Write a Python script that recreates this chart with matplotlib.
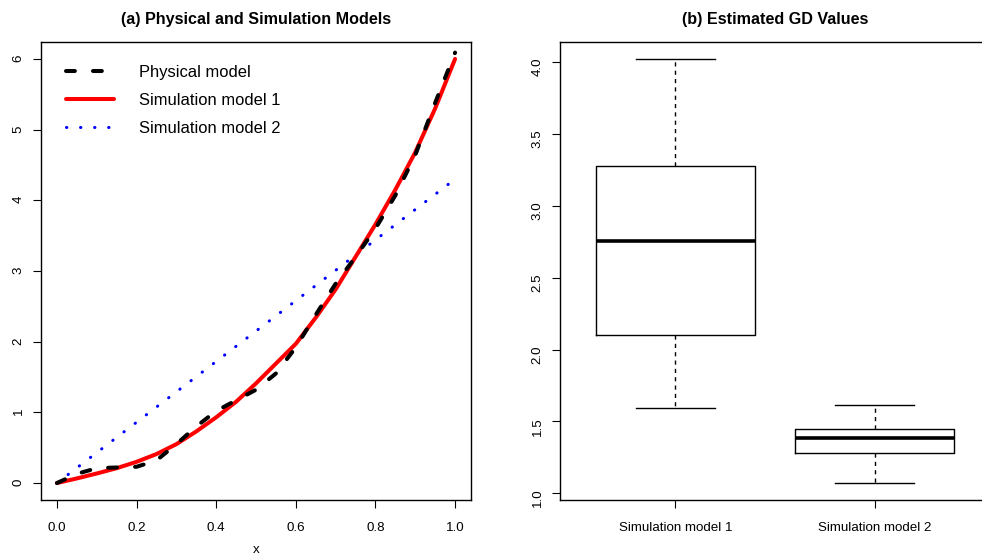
import matplotlib
matplotlib.use("Agg")
import matplotlib.pyplot as plt

plt.rcParams["font.family"] = ["Liberation Sans", "DejaVu Sans"]

# ---------------------------------------------------------------------------
# Data
# ---------------------------------------------------------------------------

x_grid = [0.00, 0.05, 0.10, 0.15, 0.20, 0.25, 0.30, 0.35, 0.40, 0.45, 0.50,
          0.55, 0.60, 0.65, 0.70, 0.75, 0.80, 0.85, 0.90, 0.95, 1.00]

physical_y = [0.00, 0.13, 0.21, 0.22, 0.23, 0.32, 0.55, 0.80, 1.02, 1.17, 1.32,
              1.55, 1.92, 2.38, 2.82, 3.20, 3.60, 4.07, 4.64, 5.38, 6.09]

sim1_y = [0.00, 0.065, 0.135, 0.21, 0.30, 0.41, 0.55, 0.73, 0.93, 1.15, 1.41,
          1.69, 1.97, 2.34, 2.74, 3.20, 3.66, 4.15, 4.68, 5.30, 6.00]

sim2_x = [0.0, 1.0]
sim2_y = [0.0, 4.3]

# Box plot summary (panel b)
box_labels = ["Simulation model 1", "Simulation model 2"]
whisk_lo = [1.596, 1.070]
q1 = [2.098, 1.279]
medians = [2.757, 1.383]
q3 = [3.280, 1.448]
whisk_hi = [4.024, 1.617]

# ---------------------------------------------------------------------------
# Figure
# ---------------------------------------------------------------------------

W, H = 982, 554
fig = plt.figure(figsize=(W / 100, H / 100), dpi=100)

ax1 = fig.add_axes([41 / W, 54 / H, 430 / W, 458 / H])
ax2 = fig.add_axes([560 / W, 54 / H, 430 / W, 458 / H])

TICK_FS = 9.6
for ax in (ax1, ax2):
    for sp in ax.spines.values():
        sp.set_linewidth(1.0)
    ax.tick_params(direction="out", length=5.8, width=0.8,
                   labelsize=TICK_FS, pad=6)
    ax.tick_params(axis="x", pad=10)
    ax.tick_params(axis="y", labelrotation=90)

# --- (a) line chart
ax1.plot(x_grid, physical_y, color="black", lw=2.9,
         linestyle=(0, (2.2, 4.5)), dash_capstyle="round",
         label="Physical model", zorder=3)
ax1.plot(x_grid, sim1_y, color="red", lw=2.9, solid_capstyle="round",
         label="Simulation model 1", zorder=2)
ax1.plot(sim2_x, sim2_y, color="blue", lw=2.2,
         linestyle=(0, (0.1, 4.5)), dash_capstyle="round",
         label="Simulation model 2", zorder=1)

ax1.set_xlim(-0.04, 1.04)
ax1.set_ylim(-0.24, 6.24)
ax1.set_xticks([0.0, 0.2, 0.4, 0.6, 0.8, 1.0])
ax1.set_xticklabels(["0.0", "0.2", "0.4", "0.6", "0.8", "1.0"])
ax1.set_yticks([0, 1, 2, 3, 4, 5, 6])
ax1.set_xlabel("x", fontsize=TICK_FS, labelpad=7)
ax1.set_title("(a) Physical and Simulation Models", fontsize=11.6,
              fontweight="bold", pad=13)

ax1.legend(loc="upper left", bbox_to_anchor=(0.058, 0.950), frameon=False,
           fontsize=11.9, handlelength=2.9, handletextpad=1.55,
           labelspacing=0.79, borderpad=0, borderaxespad=0)

# --- (b) box plot
stats = []
for i in range(len(box_labels)):
    stats.append({
        "label": box_labels[i],
        "whislo": whisk_lo[i],
        "q1": q1[i],
        "med": medians[i],
        "q3": q3[i],
        "whishi": whisk_hi[i],
        "fliers": [],
    })

ax2.bxp(stats, positions=[1, 2], widths=0.8, capwidths=0.4,
        showfliers=False,
        boxprops=dict(color="black", lw=1.0),
        medianprops=dict(color="black", lw=2.6, solid_capstyle="butt"),
        whiskerprops=dict(color="black", lw=1.0, linestyle=(0, (3, 3))),
        capprops=dict(color="black", lw=1.0))

ax2.set_xlim(0.42, 2.58)
ax2.set_ylim(0.952, 4.142)
ax2.set_yticks([1.0, 1.5, 2.0, 2.5, 3.0, 3.5, 4.0])
ax2.set_yticklabels(["1.0", "1.5", "2.0", "2.5", "3.0", "3.5", "4.0"])
ax2.set_xticks([1, 2])
ax2.set_xticklabels(box_labels)
ax2.set_title("(b) Estimated GD Values", fontsize=11.6,
              fontweight="bold", pad=13)

fig.savefig("out.png", dpi=100)
